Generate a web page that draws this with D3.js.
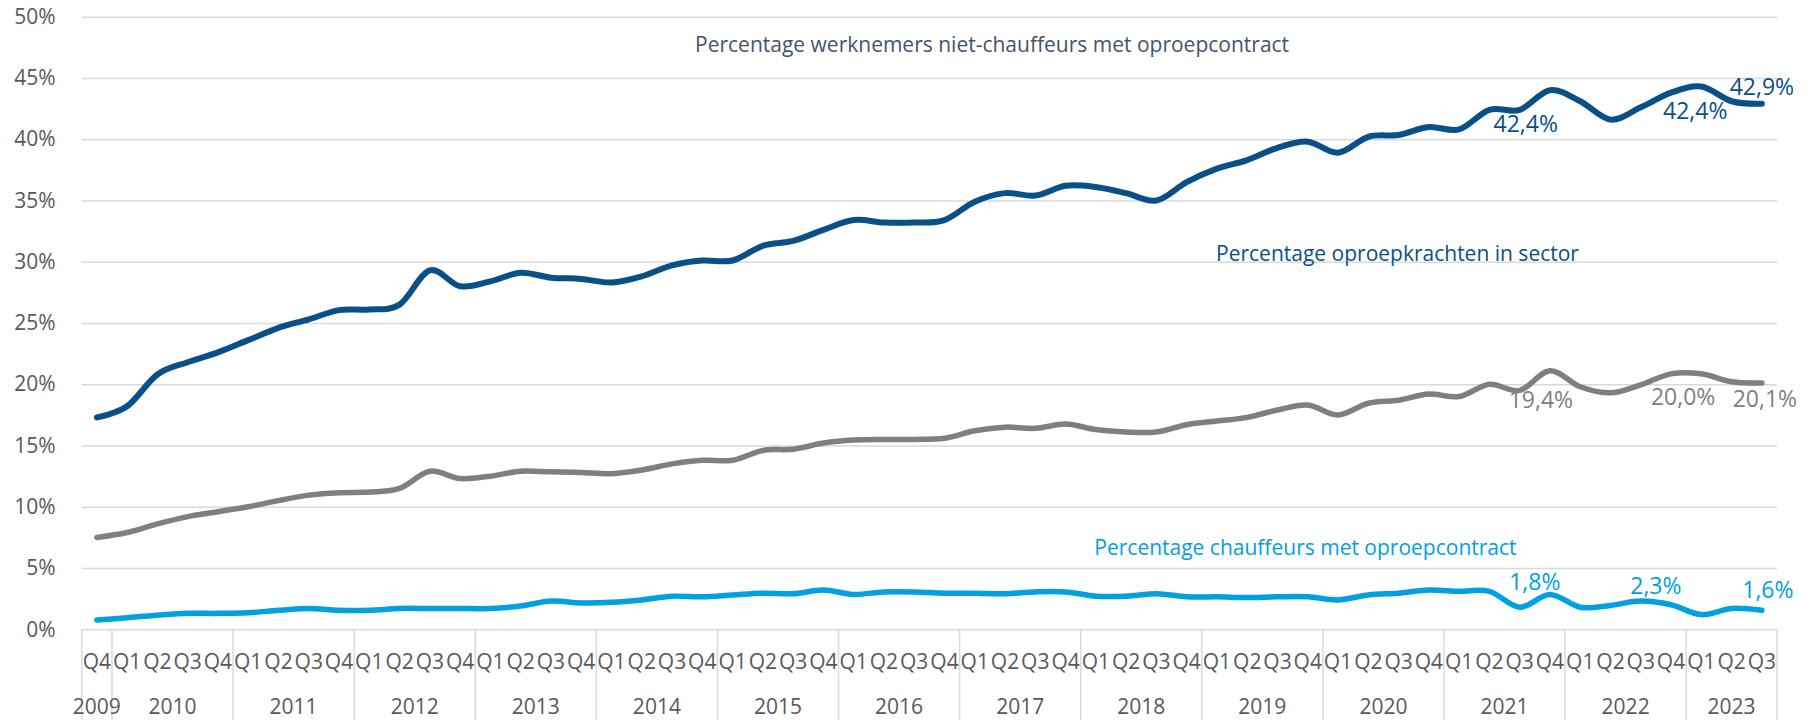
<!DOCTYPE html>
<html>
<head>
<meta charset="utf-8">
<script src="https://cdn.jsdelivr.net/npm/d3@7"></script>
<style>
  body { margin: 0; background: #fff; }
  svg text { font-family: "Open Sans", sans-serif; }
</style>
</head>
<body>
<div id="vis"></div>
<script>
// quarters, Q4 2009 .. Q3 2023
const quarterLabels = ['Q4',
  'Q1','Q2','Q3','Q4', 'Q1','Q2','Q3','Q4', 'Q1','Q2','Q3','Q4', 'Q1','Q2','Q3','Q4',
  'Q1','Q2','Q3','Q4', 'Q1','Q2','Q3','Q4', 'Q1','Q2','Q3','Q4', 'Q1','Q2','Q3','Q4',
  'Q1','Q2','Q3','Q4', 'Q1','Q2','Q3','Q4', 'Q1','Q2','Q3','Q4', 'Q1','Q2','Q3','Q4',
  'Q1','Q2','Q3','Q4', 'Q1','Q2','Q3'];
const yearLabels = ['2009','2010','2011','2012','2013','2014','2015','2016','2017','2018','2019','2020','2021','2022','2023'];
const yearQuarters = [1,4,4,4,4,4,4,4,4,4,4,4,4,4,3];

// percentage oproepkrachten in sector
const sector = [17.3, 18.2, 20.8, 21.8, 22.6, 23.6, 24.6, 25.3, 26.05, 26.1,
  26.5, 29.3, 28.0, 28.4, 29.1, 28.7, 28.6, 28.3, 28.8, 29.7,
  30.1, 30.1, 31.3, 31.7, 32.6, 33.4, 33.2, 33.2, 33.4, 34.9,
  35.6, 35.4, 36.2, 36.1, 35.6, 35.0, 36.5, 37.6, 38.3, 39.3,
  39.8, 38.9, 40.2, 40.35, 41.0, 40.8, 42.4, 42.4, 44.0, 43.1,
  41.6, 42.6, 43.8, 44.3, 43.1, 42.9];
// werknemers niet-chauffeurs met oproepcontract
const nietChauffeurs = [7.5, 7.9, 8.6, 9.2, 9.6, 10.0, 10.5, 10.95, 11.15, 11.2,
  11.5, 12.9, 12.3, 12.5, 12.9, 12.85, 12.8, 12.7, 13.0, 13.5,
  13.8, 13.8, 14.6, 14.7, 15.2, 15.45, 15.5, 15.5, 15.6, 16.2,
  16.5, 16.4, 16.75, 16.3, 16.1, 16.1, 16.7, 17.0, 17.3, 17.9,
  18.3, 17.5, 18.45, 18.7, 19.2, 19.0, 20.0, 19.5, 21.1, 19.8,
  19.3, 19.95, 20.85, 20.85, 20.2, 20.1];
// chauffeurs met oproepcontract
const chauffeurs = [0.75, 0.95, 1.15, 1.3, 1.3, 1.35, 1.55, 1.7, 1.55, 1.55,
  1.7, 1.7, 1.7, 1.7, 1.9, 2.3, 2.15, 2.2, 2.4, 2.7,
  2.65, 2.8, 2.95, 2.9, 3.2, 2.85, 3.05, 3.05, 2.95, 2.95,
  2.9, 3.05, 3.05, 2.7, 2.7, 2.9, 2.65, 2.65, 2.6, 2.65,
  2.65, 2.4, 2.8, 2.95, 3.2, 3.1, 3.1, 1.8, 2.85, 1.8,
  1.95, 2.3, 2.0, 1.2, 1.7, 1.55];

const yTicks = [0, 5, 10, 15, 20, 25, 30, 35, 40, 45, 50];

// value labels: position (quarter index, value) and text
const labelPos = [47.2, 52.8, 55.0, 47.7, 52.4, 55.1, 47.5, 51.5, 55.2];
const labelVal = [41.25, 42.3, 44.3, 18.7, 19.0, 18.8, 3.9, 3.55, 3.25];
const labelText = ['42,4%', '42,4%', '42,9%', '19,4%', '20,0%', '20,1%', '1,8%', '2,3%', '1,6%'];
const labelSeries = [0, 0, 0, 1, 1, 1, 2, 2, 2];

const seriesNames = ['Percentage oproepkrachten in sector',
  'Percentage werknemers niet-chauffeurs met oproepcontract',
  'Percentage chauffeurs met oproepcontract'];
const namePos = [36.97, 19.76, 32.95];
const nameVal = [30.7, 47.7, 6.7];
const nameSize = [21, 21, 21];

const colors = ['#0a5088', '#7f7f7f', '#00a0e3'];
const textColors = ['#0a5088', '#44546a', '#00a0e3'];
const labelColors = ['#0a5088', '#7f7f7f', '#00a0e3'];

const margin = {top: 16.7, right: 39, bottom: 90.7, left: 81.7};
const W = 1816, H = 720;
const width = W - margin.left - margin.right;
const height = H - margin.top - margin.bottom;

const svg = d3.select('#vis')
    .append('svg')
    .attr('width', W)
    .attr('height', H)
    .append('g')
    .attr('transform', `translate(${margin.left},${margin.top})`);

const n = quarterLabels.length;
// quarter index -> x (center of quarter i is x(i + 0.5))
const x = d3.scaleLinear().domain([0, n]).range([0, width]);
const y = d3.scaleLinear().domain([0, 50]).range([height, 0]);

// gridlines + y labels
const yAxis = d3.axisLeft(y)
    .tickValues(yTicks)
    .tickFormat(d => d + '%')
    .tickSize(-width)
    .tickPadding(26);

const gy = svg.append('g').call(yAxis);
gy.select('.domain').remove();
gy.selectAll('line').attr('stroke', '#d9d9d9').attr('stroke-width', 1.5);
gy.selectAll('text')
    .attr('fill', '#595959')
    .style('font-size', '21px');

// category axis: quarters row and year row
const gx = svg.append('g').attr('transform', `translate(0,${height})`);

gx.selectAll('.q')
    .data(quarterLabels)
    .join('text')
    .attr('class', 'q')
    .attr('x', (d, i) => x(i + 0.5))
    .attr('y', 32.4)
    .attr('dy', '0.35em')
    .attr('text-anchor', 'middle')
    .attr('fill', '#595959')
    .style('font-size', '21px')
    .text(d => d);

const yearStart = d3.cumsum([0].concat(yearQuarters.slice(0, -1)));
const bounds = [0].concat(Array.from(d3.cumsum(yearQuarters)));

gx.selectAll('.sep')
    .data(bounds)
    .join('line')
    .attr('class', 'sep')
    .attr('x1', d => x(d))
    .attr('x2', d => x(d))
    .attr('y1', 0)
    .attr('y2', margin.bottom)
    .attr('stroke', '#d9d9d9')
    .attr('stroke-width', 1.5);

gx.selectAll('.yr')
    .data(yearLabels)
    .join('text')
    .attr('class', 'yr')
    .attr('x', (d, i) => x(yearStart[i] + yearQuarters[i] / 2))
    .attr('y', 77.4)
    .attr('dy', '0.35em')
    .attr('text-anchor', 'middle')
    .attr('fill', '#595959')
    .style('font-size', '21px')
    .text(d => d);

// lines
const line = d3.line()
    .x((d, i) => x(i + 0.5))
    .y(d => y(d))
    .curve(d3.curveCatmullRom.alpha(0));

const allSeries = [sector, nietChauffeurs, chauffeurs];
const widths = [6, 5.5, 5.5];

// draw grey first, then light blue, then dark blue on top
[1, 2, 0].forEach(k => {
    svg.append('path')
        .datum(allSeries[k])
        .attr('fill', 'none')
        .attr('stroke', colors[k])
        .attr('stroke-width', widths[k])
        .attr('stroke-linecap', 'round')
        .attr('stroke-linejoin', 'round')
        .attr('d', line);
});

// series names written in the plot
svg.selectAll('.name')
    .data(seriesNames)
    .join('text')
    .attr('class', 'name')
    .attr('x', (d, i) => x(namePos[i] + 0.5))
    .attr('y', (d, i) => y(nameVal[i]))
    .attr('dy', '0.35em')
    .attr('fill', (d, i) => textColors[i])
    .style('font-size', (d, i) => nameSize[i] + 'px')
    .text(d => d);

// value labels
svg.selectAll('.lbl')
    .data(labelText)
    .join('text')
    .attr('class', 'lbl')
    .attr('x', (d, i) => x(labelPos[i] + 0.5))
    .attr('y', (d, i) => y(labelVal[i]))
    .attr('dy', '0.35em')
    .attr('text-anchor', 'middle')
    .attr('fill', (d, i) => labelColors[labelSeries[i]])
    .style('font-size', '23px')
    .text(d => d);
</script>
</body>
</html>
